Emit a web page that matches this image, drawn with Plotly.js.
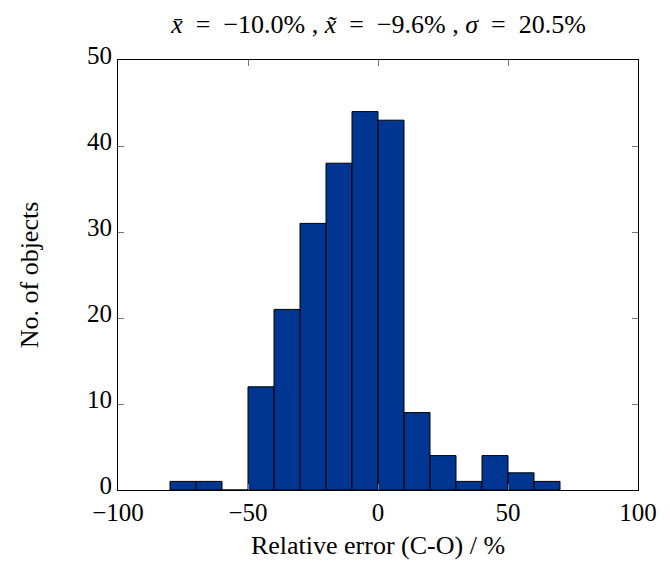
<!DOCTYPE html>
<html><head><meta charset="utf-8">
<script src="https://cdn.plot.ly/plotly-3.0.1.min.js"></script>
<style>body{margin:0;background:#fff}</style>
</head><body>
<div id="chart" style="width:670px;height:561px"></div>
<script>
const binStarts = [-80,-70,-60,-50,-40,-30,-20,-10,0,10,20,30,40,50,60];
const counts    = [1,1,0,12,21,31,38,44,43,9,4,1,4,2,1];
const binWidth = 10;
const xTicks = [-100,-50,0,50,100];
const xTickLabels = ['−100','−50','0','50','100'];
const yTicks = [0,10,20,30,40,50];

const centers = binStarts.map(s => s + binWidth/2);
const font = "'Liberation Serif', 'DejaVu Serif', serif";
const sp = '\u00a0';
const sp2 = '\u00a0\u00a0';

Plotly.newPlot('chart', [{
  type: 'bar',
  x: centers,
  y: counts,
  width: binStarts.map(() => binWidth),
  marker: {color: '#003591', line: {color: '#000', width: 1}},
  hoverinfo: 'x+y'
}], {
  width: 670, height: 561,
  margin: {l: 118, r: 32, t: 60, b: 71},
  paper_bgcolor: '#fff', plot_bgcolor: '#fff',
  showlegend: false,
  font: {family: font, color: '#000'},
  title: {
    text: '<i>x̄</i>' + sp2 + '=' + sp2 + '−10.0%' + sp + ',' + sp + '<i>x̃</i>' + sp2 + '=' + sp2 + '−9.6%' + sp + ',' + sp + '<i>σ</i>' + sp2 + '=' + sp2 + '20.5%',
    font: {family: font, size: 26, color: '#000'},
    x: 0.565, xanchor: 'center', y: 0.958, yanchor: 'middle'
  },
  xaxis: {
    range: [-100, 100],
    tickvals: xTicks, ticktext: xTickLabels,
    ticks: 'inside', ticklen: 6, tickcolor: '#777', tickwidth: 1,
    mirror: 'ticks', showline: true, linecolor: '#000', linewidth: 1,
    showgrid: false, zeroline: false,
    tickfont: {family: font, size: 25, color: '#000'},
    title: {text: 'Relative error (C-O) / %', font: {family: font, size: 26, color: '#000'}, standoff: 10}
  },
  yaxis: {
    range: [0, 50],
    tickvals: yTicks,
    ticks: 'inside', ticklen: 6, tickcolor: '#777', tickwidth: 1,
    mirror: 'ticks', showline: true, linecolor: '#000', linewidth: 1,
    showgrid: false, zeroline: false,
    ticklabelshift: -5,
    tickfont: {family: font, size: 25, color: '#000'},
    title: {text: 'No. of objects', font: {family: font, size: 26, color: '#000'}, standoff: 40}
  },
  bargap: 0
}, {displayModeBar: false, staticPlot: true});
</script>
</body></html>
